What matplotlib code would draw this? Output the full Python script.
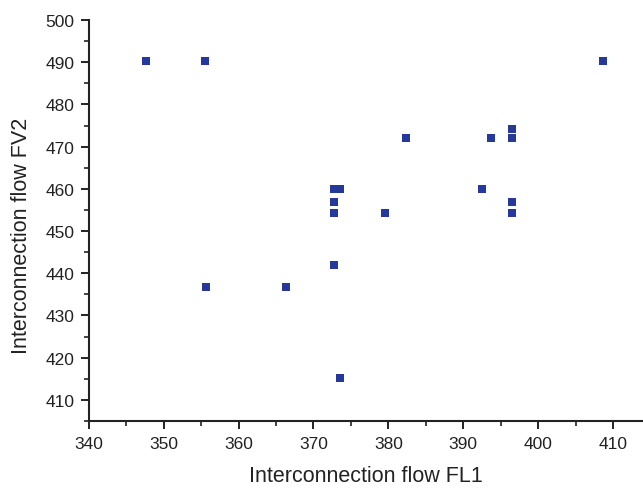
import matplotlib.pyplot as plt
from matplotlib.ticker import MultipleLocator

plt.rcParams['font.family'] = ['Liberation Sans', 'DejaVu Sans']

# interconnection flows for each operating point
fl1 = [347.7, 355.5, 408.7, 382.4, 393.7, 396.5, 396.5, 392.5, 372.7, 373.6,
       372.7, 372.7, 379.5, 396.5, 396.5, 372.7, 373.5, 355.6, 366.3]
fv2 = [490.3, 490.3, 490.3, 472.0, 472.0, 472.0, 474.2, 460.0, 460.0, 460.0,
       457.0, 454.2, 454.2, 457.0, 454.2, 442.0, 415.2, 436.7, 436.7]

fig = plt.figure(figsize=(6.43, 4.89), dpi=100)
ax = fig.add_axes([0.138, 0.137, 0.862, 0.82])

ax.scatter(fl1, fv2, marker='s', s=26, color='#26399a', linewidths=0, zorder=3)

ax.set_xlim(340, 414)
ax.set_ylim(405, 500)
ax.xaxis.set_major_locator(MultipleLocator(10))
ax.xaxis.set_minor_locator(MultipleLocator(5))
ax.yaxis.set_major_locator(MultipleLocator(10))
ax.yaxis.set_minor_locator(MultipleLocator(5))
ax.set_yticks(range(410, 501, 10))

for side in ['top', 'right']:
    ax.spines[side].set_visible(False)
for side in ['left', 'bottom']:
    ax.spines[side].set_linewidth(1.5)
    ax.spines[side].set_color('#222222')

ax.tick_params(which='major', direction='out', length=6, width=1.4,
               labelsize=12.5, colors='#222222', pad=4.5)
ax.tick_params(which='minor', direction='out', length=3.5, width=1.2,
               colors='#222222')

ax.set_xlabel('Interconnection flow FL1', fontsize=15.5, color='#222222', va='center')
ax.set_ylabel('Interconnection flow FV2', fontsize=15.5, color='#222222', va='center')
ax.xaxis.set_label_coords(0.5, -0.137)
ax.yaxis.set_label_coords(-0.121, 0.464)

fig.savefig('out.png', dpi=100)
